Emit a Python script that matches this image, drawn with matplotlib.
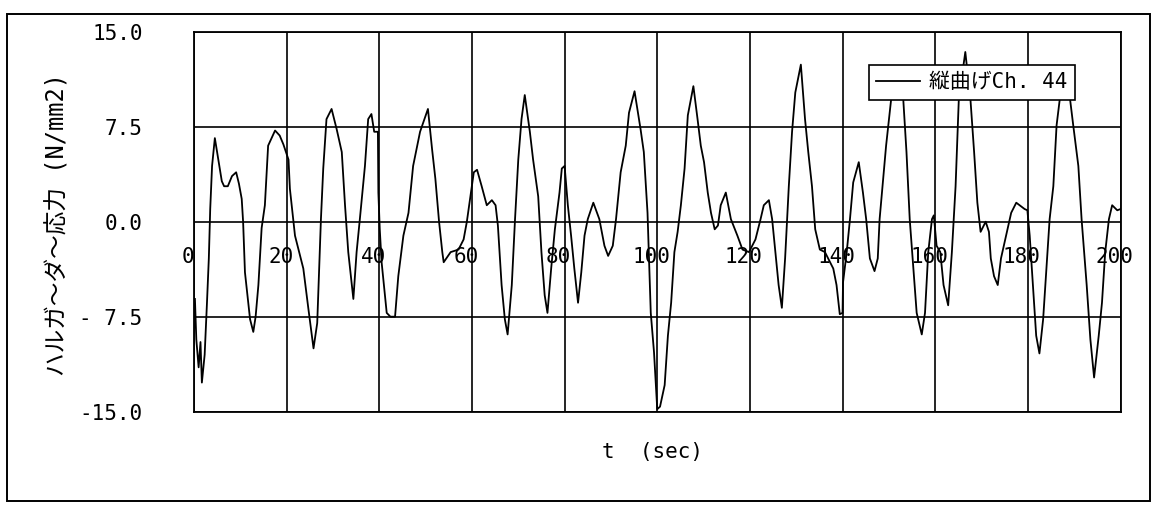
import matplotlib
matplotlib.use("Agg")
import matplotlib.pyplot as plt
from matplotlib.font_manager import FontProperties
from matplotlib.patches import Rectangle
import matplotlib.transforms as mtransforms

# ---- data ----
t_sec = [0.2, 0.5, 1.0, 1.4, 1.7, 2.3, 2.8, 3.2, 3.5, 3.9, 4.5, 5.2, 6.0, 6.5, 7.3, 8.2, 9.1, 9.7,
         10.3, 10.6, 11.0, 12.1, 12.8, 13.3, 13.9, 14.6, 15.3, 16.0, 17.5, 18.5, 19.3, 20.4, 20.7,
         21.8, 23.6, 24.7, 25.8, 26.6, 27.4, 27.9, 28.6, 29.7, 30.8, 31.9, 32.6, 33.3, 34.4, 35.1,
         35.8, 36.9, 37.6, 38.3, 38.9, 39.7, 39.8, 40.1, 40.5, 41.6, 42.4, 43.4, 44.1, 45.2, 46.3,
         47.3, 48.8, 50.5, 51.4, 52.1, 52.9, 53.6, 53.9, 55.4, 57.1, 58.2, 58.9, 59.6, 60.4, 61.1,
         62.1, 63.2, 64.3, 65.1, 65.6, 66.4, 67.1, 67.7, 68.6, 69.3, 70.0, 70.7, 71.4, 72.5, 73.2,
         74.3, 75.0, 75.7, 76.3, 77.1, 77.9, 78.9, 79.4, 80.0, 80.7, 81.4, 82.1, 82.9, 83.6, 84.3,
         85.0, 86.2, 87.5, 88.6, 89.4, 90.4, 91.1, 92.1, 93.2, 93.9, 95.1, 96.4, 97.1, 97.9, 98.6,
         99.3, 100.0, 100.6, 101.6, 102.3, 103.0, 103.7, 104.4, 105.1, 105.9, 106.6, 107.8, 108.7,
         109.4, 110.1, 110.9, 111.6, 112.4, 113.1, 113.7, 114.8, 115.9, 117.3, 118.4, 119.8, 121.2,
         122.3, 123.0, 124.1, 124.8, 125.5, 126.2, 126.9, 127.6, 128.4, 129.1, 129.8, 131.0, 131.9,
         132.6, 133.4, 134.1, 135.1, 136.2, 138.0, 138.7, 139.4, 140.0, 140.1, 140.9, 141.6, 142.3,
         143.5, 144.4, 145.1, 145.9, 146.9, 147.6, 148.0, 149.4, 150.5, 151.6, 153.1, 153.8, 154.5,
         155.3, 156.0, 157.1, 157.8, 158.5, 159.3, 159.7, 160.3, 161.1, 161.8, 162.8, 163.6, 164.4,
         165.1, 166.5, 167.6, 168.4, 169.1, 169.8, 170.9, 171.6, 172.0, 172.7, 173.5, 174.2, 175.3,
         176.4, 177.5, 179.3, 179.9, 180.4, 181.1, 181.8, 182.5, 183.3, 184.0, 184.7, 185.5, 186.2,
         186.9, 187.9, 189.1, 189.8, 190.9, 191.6, 192.7, 193.5, 194.3, 195.3, 196.0, 196.7, 197.5,
         198.2, 199.3, 200.0]
stress = [-6.1, -9.3, -11.5, -9.5, -12.7, -10.5, -6.4, -2.9, 1.0, 4.4, 6.6, 5.0, 3.2, 2.8, 2.8, 3.6,
          3.9, 3.0, 1.8, 0.0, -4.0, -7.7, -8.7, -7.5, -5.0, -0.5, 1.3, 6.0, 7.2, 6.8, 6.1, 4.9, 2.6,
          -1.1, -3.7, -6.9, -10.0, -8.0, 0.2, 4.2, 8.1, 8.9, 7.3, 5.5, 1.3, -2.4, -6.1, -2.4, 0.2,
          4.4, 8.1, 8.5, 7.1, 7.1, 2.3, -0.6, -3.2, -7.2, -7.5, -7.5, -4.3, -1.1, 0.7, 4.4, 7.1, 8.9,
          5.7, 3.4, 0.0, -2.4, -3.2, -2.4, -2.2, -1.4, 0.0, 1.8, 3.9, 4.1, 2.8, 1.3, 1.7, 1.3, -0.3,
          -5.0, -7.7, -8.9, -5.0, 0.2, 4.9, 8.1, 10.0, 7.1, 4.9, 2.0, -2.4, -5.8, -7.2, -3.7, -0.6,
          2.3, 4.2, 4.4, 1.3, -1.1, -3.7, -6.4, -4.0, -1.1, 0.2, 1.5, 0.2, -1.9, -2.7, -1.9, 0.2,
          3.9, 6.0, 8.6, 10.3, 7.3, 5.5, 0.7, -7.2, -10.3, -14.8, -14.6, -12.9, -9.0, -6.4, -2.4,
          -0.8, 1.3, 4.2, 8.4, 10.7, 8.1, 6.0, 4.7, 2.3, 0.7, -0.6, -0.3, 1.3, 2.3, 0.2, -1.1, -2.2,
          -2.4, -1.4, 0.2, 1.3, 1.7, 0.2, -2.4, -5.0, -6.8, -2.9, 2.8, 7.1, 10.2, 12.4, 8.1, 5.5,
          2.8, -0.6, -2.2, -2.4, -3.7, -5.0, -7.3, -7.2, -4.8, -2.4, 0.2, 3.1, 4.7, 2.3, 0.2, -2.9,
          -3.9, -2.9, 0.2, 6.0, 9.7, 11.0, 9.7, 5.5, 0.2, -3.7, -7.2, -8.9, -7.2, -2.4, 0.2, 0.5,
          -1.9, -2.4, -5.0, -6.6, -2.4, 2.8, 9.7, 13.4, 9.7, 5.5, 1.5, -0.8, 0.0, -0.8, -2.9, -4.3,
          -5.0, -2.9, -1.1, 0.7, 1.5, 1.0, 0.9, -1.1, -5.0, -9.0, -10.4, -7.7, -3.7, 0.2, 2.8, 7.6,
          9.7, 11.0, 9.7, 7.6, 4.4, 0.2, -5.0, -9.3, -12.3, -9.0, -6.4, -2.4, 0.2, 1.3, 0.9, 1.0]

x_ticks = [0, 20, 40, 60, 80, 100, 120, 140, 160, 180, 200]
x_tick_labels = ["0", "20", "40", "60", "80", "100", "120", "140", "160", "180", "200"]
y_ticks = [-15.0, -7.5, 0.0, 7.5, 15.0]
y_tick_labels = ["-15.0", "- 7.5", "0.0", "7.5", "15.0"]
series_name = "縦曲げCh. 44"
y_label = "ハルガ～ダ～応力 (N/mm2)"
x_label = "t  (sec)"

# ---- figure ----
W, H = 1175, 518
fig = plt.figure(figsize=(W / 100, H / 100), dpi=100)
fig.patch.set_facecolor("white")

L, R, T, B = 194, 1120.5, 31.7, 411.7
ax = fig.add_axes([L / W, 1 - B / H, (R - L) / W, (B - T) / H])

mono_cjk = ["DejaVu Sans Mono", "Noto Sans CJK JP"]

ax.plot(t_sec, stress, color="black", lw=1.3, label=series_name, zorder=3)
ax.set_xlim(0, 200)
ax.set_ylim(-15, 15)

ax.set_xticks(x_ticks)
ax.set_xticklabels([])
ax.set_yticks(y_ticks)
ax.set_yticklabels(y_tick_labels, family="DejaVu Sans Mono", fontsize=15)
ax.tick_params(axis="both", length=0)
ax.tick_params(axis="y", pad=37)
ax.grid(True, color="black", lw=1.2)
ax.set_axisbelow(True)
for sp in ax.spines.values():
    sp.set_linewidth(1.3)
    sp.set_color("black")

# x tick labels sit just below the zero line
lab_tr = mtransforms.offset_copy(ax.transData, fig=fig, x=-6, y=-35, units="dots")
for xv, lab in zip(x_ticks, x_tick_labels):
    ax.text(xv, 0, lab, transform=lab_tr, ha="center", va="center",
            family="DejaVu Sans Mono", fontsize=15, zorder=2)

# axis titles
fig.text(57 / W, 1 - 225 / H, y_label, rotation=90, ha="center", va="center",
         family=mono_cjk, fontsize=17)
fig.text(653 / W, 1 - 452 / H, x_label, ha="center", va="center",
         family="DejaVu Sans Mono", fontsize=15)

# legend
leg = ax.legend(loc="upper right", bbox_to_anchor=((1075 - L) / (R - L), (B - 65) / (B - T)),
                prop=FontProperties(family=mono_cjk, size=15),
                frameon=True, fancybox=False, framealpha=1, edgecolor="black",
                handlelength=2.1, handletextpad=0.45, borderpad=0.35, borderaxespad=0)
leg.get_frame().set_linewidth(1.2)
leg.set_zorder(5)

# outer frame
fig.patches.append(Rectangle((6.7 / W, 1 - 501 / H), (1150 - 6.7) / W, (501 - 14) / H,
                             transform=fig.transFigure, fill=False, edgecolor="black",
                             lw=1.4))

fig.savefig("out.png", dpi=100, facecolor="white")
